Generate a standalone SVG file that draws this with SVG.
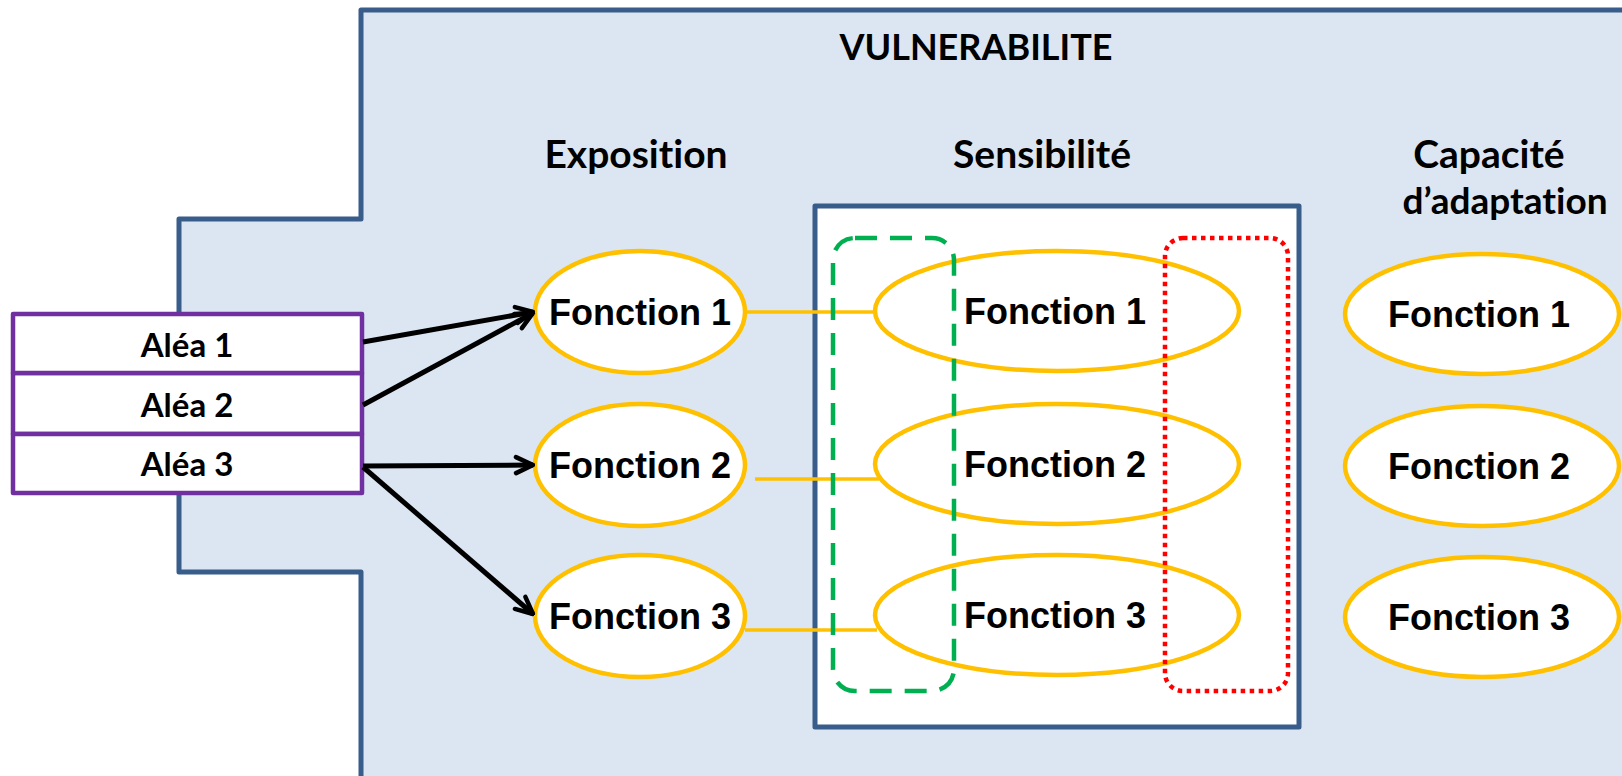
<svg xmlns="http://www.w3.org/2000/svg" width="1622" height="776" viewBox="0 0 1622 776">
  <defs>
    <marker id="openArrow" viewBox="0 0 22 22" refX="20" refY="11" markerWidth="22" markerHeight="22" markerUnits="userSpaceOnUse" orient="auto">
      <path d="M3,3 L20,11 L3,19" fill="none" stroke="#000" stroke-width="4.5" stroke-linecap="round" stroke-linejoin="round"/>
    </marker>
    <style>
      .frame { fill: #DCE6F2; stroke: #385D8A; stroke-width: 5; stroke-linejoin: round; }
      .panel { fill: #FFFFFF; stroke: #385D8A; stroke-width: 5; stroke-linejoin: round; }
      .hazard { fill: #FFFFFF; stroke: #7030A0; stroke-width: 4.5; stroke-linejoin: round; }
      .func { fill: #FFFFFF; stroke: #FFC000; stroke-width: 4.5; }
      .link { stroke: #FFC000; stroke-width: 3.5; fill: none; }
      .arrow { stroke: #000; stroke-width: 5; fill: none; marker-end: url(#openArrow); }
      text { font-variant-ligatures: none; font-feature-settings: "liga" 0, "dlig" 0; }
      .heading { font-family: Lato, "Open Sans", sans-serif; font-weight: bold; font-size: 39px; fill: #000; text-anchor: middle; }
      .title { font-family: Lato, "Open Sans", sans-serif; font-weight: bold; font-size: 36px; fill: #000; text-anchor: middle; }
      .hz { font-family: Lato, "Open Sans", sans-serif; font-weight: bold; font-size: 33px; fill: #000; text-anchor: middle; }
      .fn { font-family: "Liberation Sans", Arial, sans-serif; font-weight: bold; font-size: 36px; fill: #000; text-anchor: middle; }
      .green { fill: none; stroke: #00B050; stroke-width: 4.5; stroke-dasharray: 22 13; }
      .red { fill: none; stroke: #FF0000; stroke-width: 4.5; stroke-dasharray: 4.5 4.5; }
    </style>
  </defs>

  <!-- vulnerability frame -->
  <path id="vulnerabilite" class="frame" d="M361,10 H1640 V800 H361 V572 H179 V219 H361 Z"/>
  <text class="title" x="976" y="60">VULNERABILITE</text>

  <!-- column headings -->
  <text class="heading" x="636" y="168">Exposition</text>
  <text class="heading" x="1042" y="168">Sensibilité</text>
  <text class="heading" x="1489" y="168">Capacité</text>
  <text class="heading" x="1505" y="214" style="font-size:37px">d’adaptation</text>

  <!-- sensitivity panel -->
  <rect id="sensibilite-panel" class="panel" x="815" y="206" width="484" height="521"/>

  <!-- hazards -->
  <g id="alea-2">
    <rect class="hazard" x="13" y="373" width="349" height="61"/>
    <text class="hz" x="187" y="417">Aléa 2</text>
  </g>
  <g id="alea-3">
    <rect class="hazard" x="13" y="434" width="349" height="59"/>
    <text class="hz" x="187" y="476">Aléa 3</text>
  </g>
  <g id="alea-1">
    <rect class="hazard" x="13" y="314" width="349" height="59" stroke-width="5.5"/>
    <text class="hz" x="187" y="357">Aléa 1</text>
  </g>

  <!-- exposure functions -->
  <g id="expo-f1">
    <ellipse class="func" cx="640" cy="312" rx="105" ry="61"/>
    <text class="fn" x="640" y="325">Fonction 1</text>
  </g>
  <g id="expo-f2">
    <ellipse class="func" cx="640" cy="465" rx="105" ry="61"/>
    <text class="fn" x="640" y="478">Fonction 2</text>
  </g>
  <g id="expo-f3">
    <ellipse class="func" cx="640" cy="616" rx="105" ry="61"/>
    <text class="fn" x="640" y="629">Fonction 3</text>
  </g>

  <!-- sensitivity functions -->
  <g id="sens-f1">
    <ellipse class="func" cx="1057" cy="311" rx="182" ry="60"/>
    <text class="fn" x="1055" y="324">Fonction 1</text>
  </g>
  <g id="sens-f2">
    <ellipse class="func" cx="1057" cy="464" rx="182" ry="60"/>
    <text class="fn" x="1055" y="477">Fonction 2</text>
  </g>
  <g id="sens-f3">
    <ellipse class="func" cx="1057" cy="615" rx="182" ry="60"/>
    <text class="fn" x="1055" y="628">Fonction 3</text>
  </g>

  <!-- adaptive capacity functions -->
  <g id="adapt-f1">
    <ellipse class="func" cx="1482" cy="314" rx="137" ry="60"/>
    <text class="fn" x="1479" y="327">Fonction 1</text>
  </g>
  <g id="adapt-f2">
    <ellipse class="func" cx="1482" cy="466" rx="137" ry="60"/>
    <text class="fn" x="1479" y="479">Fonction 2</text>
  </g>
  <g id="adapt-f3">
    <ellipse class="func" cx="1482" cy="617" rx="137" ry="60"/>
    <text class="fn" x="1479" y="630">Fonction 3</text>
  </g>

  <!-- connectors -->
  <g id="connectors">
    <line class="link" x1="745" y1="312" x2="875" y2="312"/>
    <line class="link" x1="755" y1="479" x2="879" y2="479"/>
    <line class="link" x1="745" y1="630" x2="877" y2="630"/>
    <line class="arrow" x1="363" y1="342" x2="533" y2="312"/>
    <line class="arrow" x1="363" y1="405" x2="533" y2="313"/>
    <line class="arrow" x1="363" y1="466" x2="533" y2="465"/>
    <line class="arrow" x1="363" y1="467" x2="533" y2="614"/>
  </g>

  <!-- groupings drawn over the sensitivity functions -->
  <rect id="group-green" class="green" x="833" y="238" width="121" height="453" rx="22"/>
  <rect id="group-red" class="red" x="1165" y="238" width="123" height="453" rx="18"/>
</svg>
